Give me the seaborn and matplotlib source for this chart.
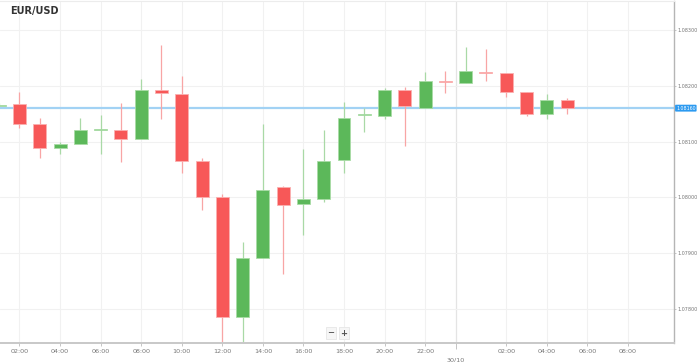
import matplotlib
matplotlib.use("Agg")
import matplotlib.pyplot as plt
import seaborn as sns
import numpy as np
import pandas as pd

# ---- data (hourly candles, hour index from 29/10 00:00) ----
hours = list(range(1, 30))
opens = [1.08164, 1.08168, 1.08132, 1.08089, 1.08096, 1.08120, 1.08121, 1.08104, 1.08193, 1.08186,
         1.08066, 1.08000, 1.07786, 1.07891, 1.08018, 1.07988, 1.07998, 1.08068, 1.08147, 1.08146,
         1.08193, 1.08161, 1.08208, 1.08205, 1.08225, 1.08223, 1.08189, 1.08150, 1.08175]
highs = [1.08170, 1.08189, 1.08143, 1.08100, 1.08143, 1.08148, 1.08170, 1.08213, 1.08273, 1.08218,
         1.08070, 1.08007, 1.07921, 1.08132, 1.08020, 1.08086, 1.08121, 1.08171, 1.08161, 1.08196,
         1.08198, 1.08225, 1.08227, 1.08270, 1.08266, 1.08223, 1.08189, 1.08186, 1.08179]
lows = [1.08163, 1.08125, 1.08070, 1.08077, 1.08096, 1.08077, 1.08064, 1.08104, 1.08141, 1.08043,
        1.07977, 1.07720, 1.07720, 1.07891, 1.07863, 1.07932, 1.07991, 1.08043, 1.08118, 1.08141,
        1.08093, 1.08161, 1.08187, 1.08205, 1.08209, 1.08180, 1.08146, 1.08141, 1.08150]
closes = [1.08166, 1.08132, 1.08089, 1.08096, 1.08121, 1.08122, 1.08105, 1.08193, 1.08187, 1.08066,
          1.08000, 1.07786, 1.07891, 1.08014, 1.07986, 1.07998, 1.08066, 1.08143, 1.08149, 1.08193,
          1.08164, 1.08209, 1.08206, 1.08227, 1.08223, 1.08189, 1.08150, 1.08175, 1.08160]

x_tick_pos = [2, 4, 6, 8, 10, 12, 14, 16, 18, 20, 22, 26, 28, 30, 32]
x_tick_labels = ["02:00", "04:00", "06:00", "08:00", "10:00", "12:00", "14:00", "16:00",
                 "18:00", "20:00", "22:00", "02:00", "04:00", "06:00", "08:00"]
day_pos = 23.5
day_label = "30/10"
y_ticks = [1.07800, 1.07900, 1.08000, 1.08100, 1.08200, 1.08300]
title = "EUR/USD"

df = pd.DataFrame({"hour": hours, "open": opens, "high": highs, "low": lows, "close": closes})
df["up"] = df["close"] >= df["open"]

sns.set_style("white")
plt.rcParams["font.family"] = ["DejaVu Sans"]

fig = plt.figure(figsize=(6.99, 3.62), dpi=100)
ax = fig.add_axes([0.0, 19 / 362, 674 / 699, 1 - 19 / 362 - 0.003])

red_body, red_wick, red_edge = "#f75858", "#f8a5a5", "#fbb0b0"
green_body, green_wick, green_edge = "#5cb85a", "#a9d9a6", "#a9dca6"

for _, r in df.iterrows():
    up = r["up"]
    wc = green_wick if up else red_wick
    bc = green_body if up else red_body
    ec = green_edge if up else red_edge
    ax.vlines(r["hour"], r["low"], r["high"], color=wc, lw=0.9, zorder=2)
    bot = min(r["open"], r["close"])
    h = abs(r["close"] - r["open"])
    h = max(h, 0.000025)
    ax.bar(r["hour"], h, bottom=bot, width=0.64, color=bc, edgecolor=ec, lw=0.6, zorder=3)

last = closes[-1]
ax.axhline(last, color="#a2d2f4", lw=1.6, zorder=1)

ax.set_xlim(1.04, 34.27)
ax.set_ylim(1.077393, 1.083518)

# grid
for xp in x_tick_pos:
    ax.axvline(xp, color="#f1f1f1", lw=0.8, zorder=0)
ax.axvline(day_pos, color="#e4e4e4", lw=0.9, zorder=0)
for yp in y_ticks:
    ax.axhline(yp, color="#f1f1f1", lw=0.8, zorder=0)

ax.set_xticks(x_tick_pos)
ax.set_xticklabels(x_tick_labels)
ax.set_xticks([day_pos], minor=True)
ax.set_xticklabels([day_label], minor=True)
ax.tick_params(axis="x", which="major", labelsize=4.6, colors="#bbbbbb", labelcolor="#777777",
               length=2.5, width=0.6, pad=1.5, direction="out", bottom=True)
ax.tick_params(axis="x", which="minor", labelsize=4.6, colors="#bbbbbb", labelcolor="#777777",
               length=4, width=0.6, pad=6.5, direction="out", bottom=True)

ax.yaxis.tick_right()
ax.set_yticks(y_ticks)
ax.set_yticklabels([f"{v:.5f}" for v in y_ticks])
ax.tick_params(axis="y", labelsize=3.5, colors="#bbbbbb", labelcolor="#777777",
               length=1.5, width=0.6, pad=0.8, direction="out", right=True, left=False)

ax.spines["left"].set_visible(False)
ax.spines["top"].set_color("#ececec")
ax.spines["top"].set_linewidth(0.8)
ax.spines["right"].set_color("#b5b5b5")
ax.spines["right"].set_linewidth(1.0)
ax.spines["bottom"].set_color("#c8c8c8")
ax.spines["bottom"].set_linewidth(1.4)

# price label
ax.text(1.003, last, f"{last:.5f}", transform=ax.get_yaxis_transform(), ha="left", va="center",
        fontsize=3.4, color="white",
        bbox=dict(boxstyle="round,pad=0.2,rounding_size=0.2", fc="#2c9af0", ec="none"), zorder=5)

fig.text(10 / 699, 1 - 11 / 362, title, fontsize=7, fontweight="bold", color="#333333",
         ha="left", va="center")

# zoom buttons
for xc, t in [(331 / 699, "\u2212"), (344 / 699, "+")]:
    fig.text(xc, 1 - 333 / 362, t, fontsize=6, fontweight="bold", color="#555555",
             ha="center", va="center",
             bbox=dict(boxstyle="square,pad=0.2", fc="#f6f6f6", ec="#e6e6e6", lw=0.6))

fig.savefig("out.png", dpi=100)
